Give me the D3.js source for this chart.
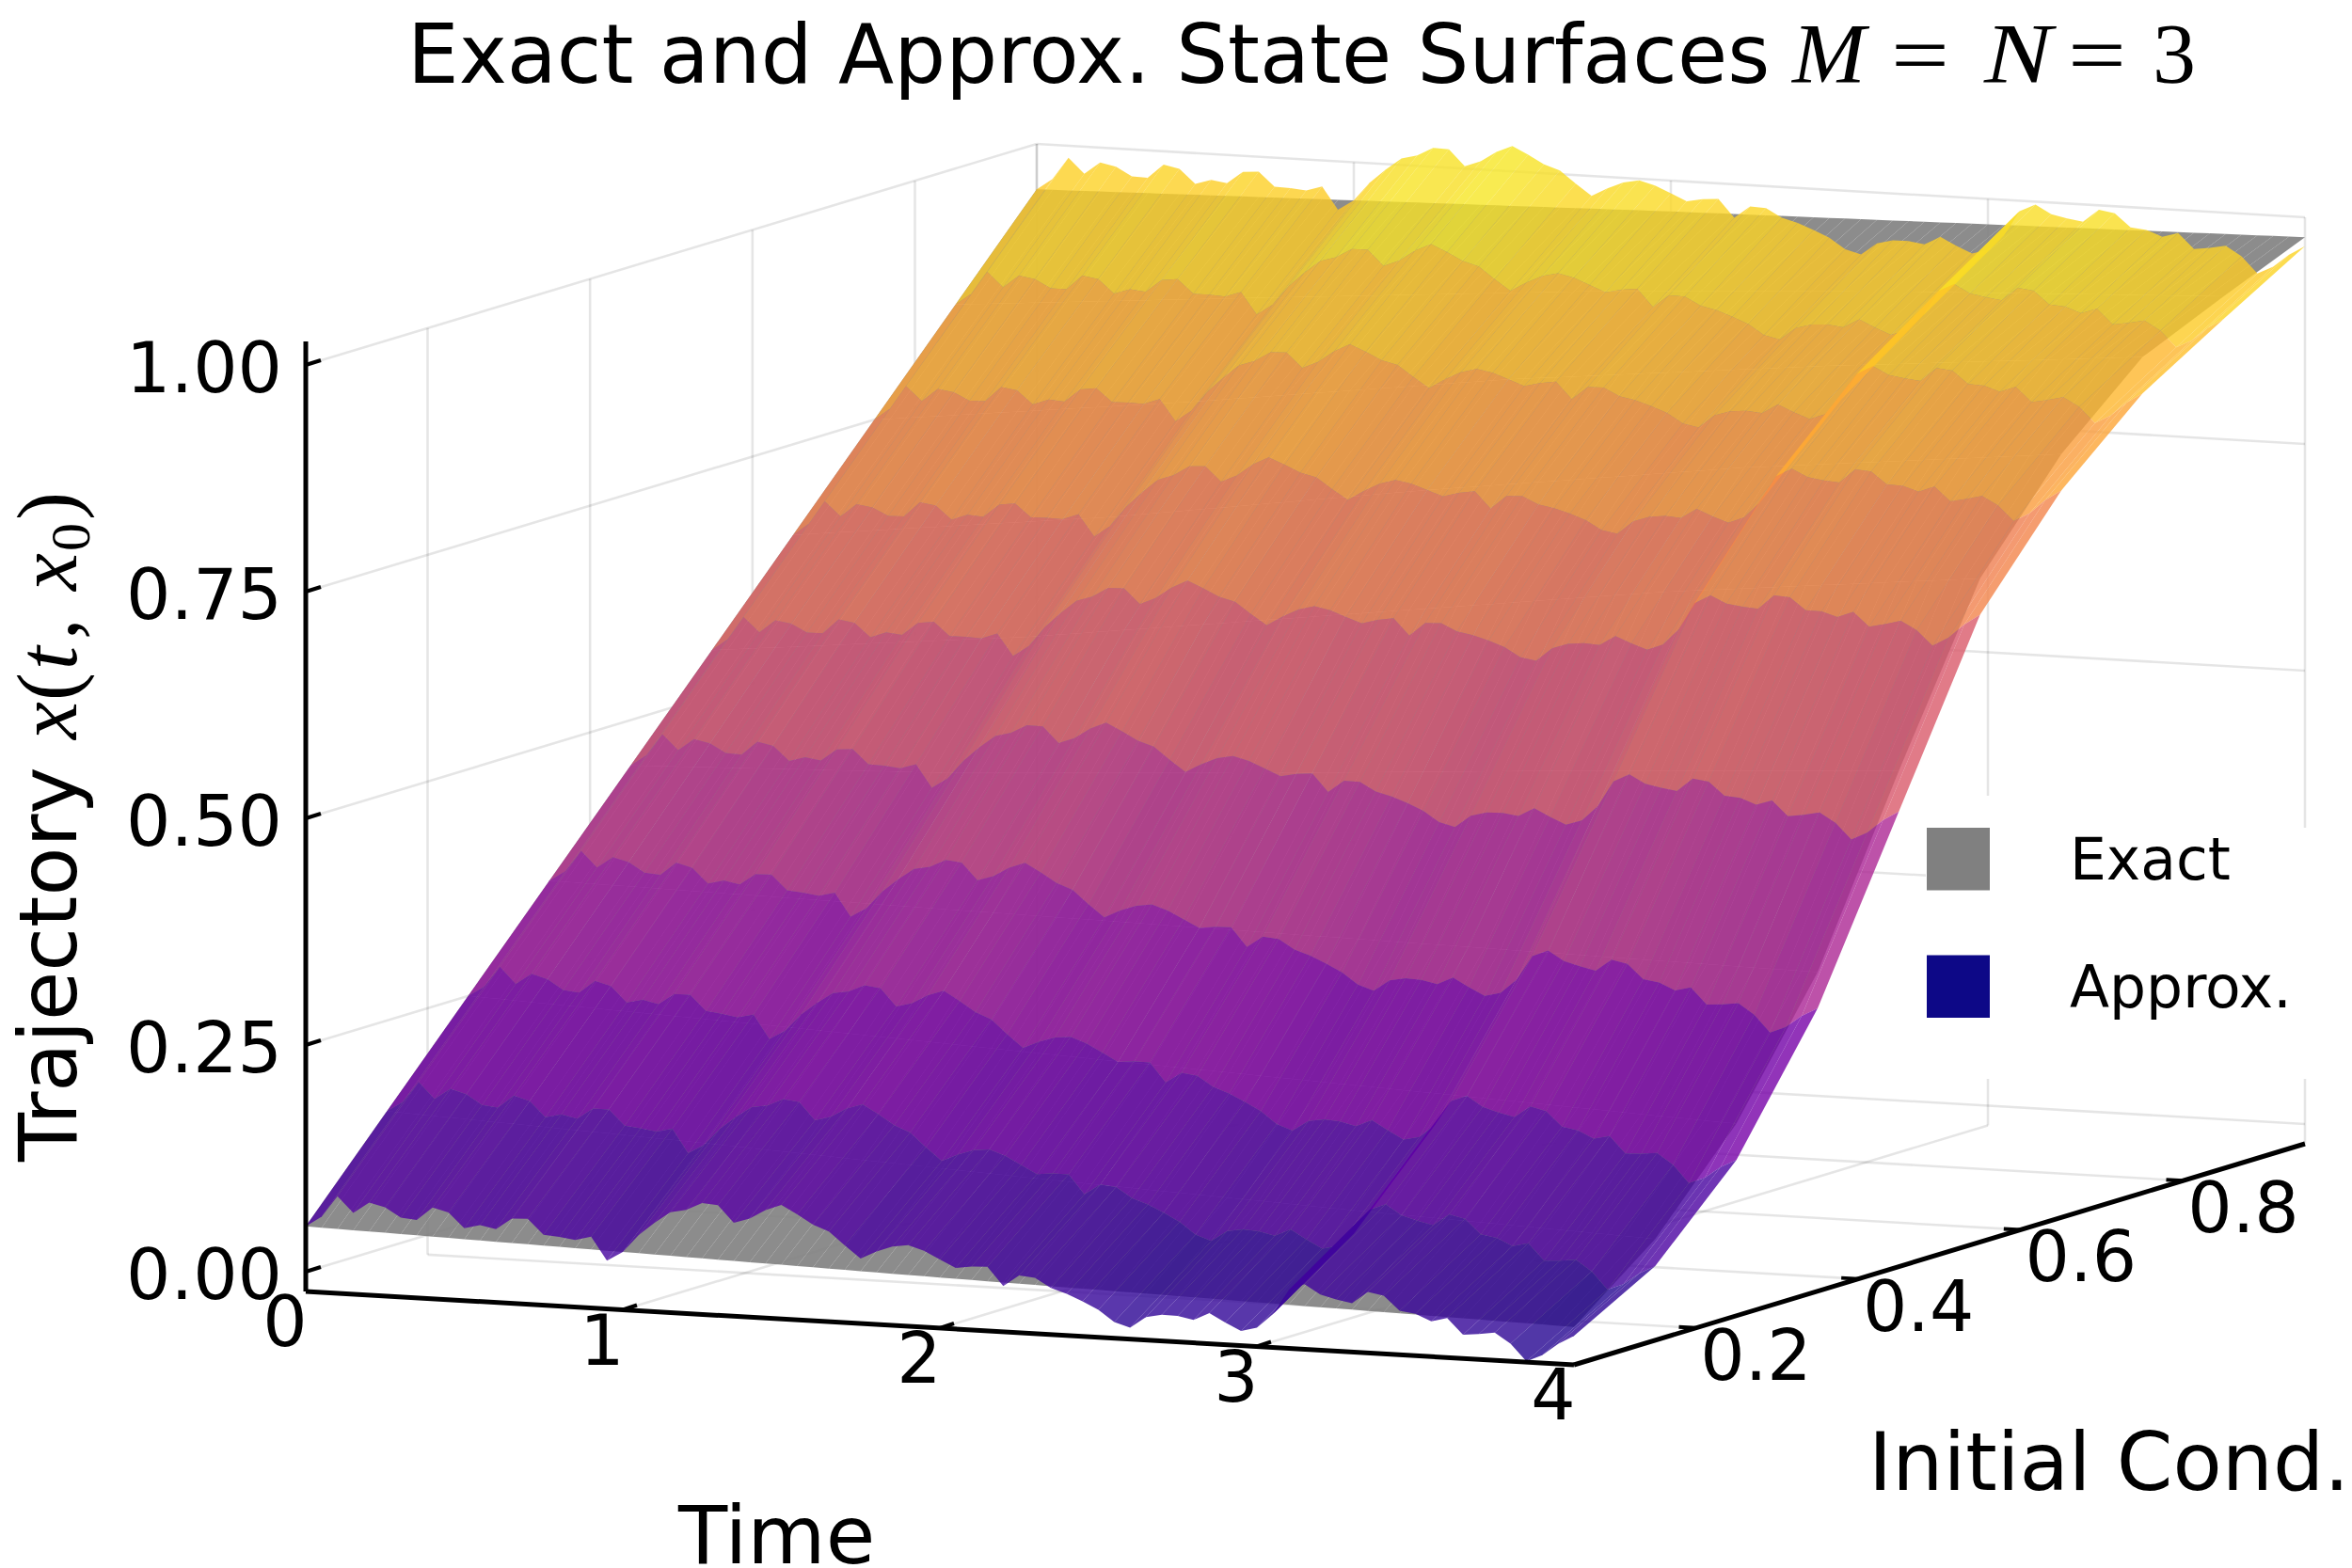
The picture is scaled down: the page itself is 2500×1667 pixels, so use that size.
<!DOCTYPE html>
<html><head><meta charset="utf-8">
<style>html,body{margin:0;padding:0;background:#fff}svg{display:block}text{font-family:"DejaVu Sans";fill:#000}.m{font-family:"Liberation Serif"}</style>
<script src="https://cdn.jsdelivr.net/npm/d3@7"></script></head><body><svg id="c" width="2500" height="1667"></svg>
<script>
// ---- data ----
const initialConds=[0.05,0.15,0.25,0.35,0.45,0.55,0.65,0.75,0.85,0.95];
const timeKnots=[0,1,2,3,4];
const exactRows=[
 [0.05,0.042,0.034,0.027,0.020],
 [0.15,0.135,0.118,0.103,0.090],
 [0.25,0.236,0.220,0.205,0.190],
 [0.35,0.345,0.340,0.335,0.330],
 [0.45,0.462,0.482,0.505,0.525],
 [0.55,0.585,0.630,0.675,0.710],
 [0.65,0.690,0.740,0.785,0.820],
 [0.75,0.790,0.835,0.870,0.900],
 [0.85,0.878,0.905,0.925,0.940],
 [0.95,0.958,0.966,0.972,0.978]];
const approxMeanRows=[
 [0.05,0.042,0.034,0.027,0.020],
 [0.15,0.133,0.111,0.090,0.070],
 [0.25,0.232,0.208,0.183,0.160],
 [0.35,0.340,0.328,0.315,0.300],
 [0.45,0.456,0.467,0.478,0.490],
 [0.55,0.575,0.607,0.645,0.680],
 [0.65,0.680,0.720,0.758,0.790],
 [0.75,0.780,0.815,0.845,0.870],
 [0.85,0.870,0.892,0.910,0.925],
 [0.95,0.958,0.966,0.972,0.978]];
const times=[0,.05,.1,.15,.2,.25,.3,.35,.4,.45,.5,.55,.6,.65,.7,.75,.8,.85,.9,.95,1,1.05,1.1,1.15,1.2,1.25,1.3,1.35,1.4,1.45,1.5,1.55,1.6,1.65,1.7,1.75,1.8,1.85,1.9,1.95,2,2.05,2.1,2.15,2.2,2.25,2.3,2.35,2.4,2.45,2.5,2.55,2.6,2.65,2.7,2.75,2.8,2.85,2.9,2.95,3,3.05,3.1,3.15,3.2,3.25,3.3,3.35,3.4,3.45,3.5,3.55,3.6,3.65,3.7,3.75,3.8,3.85,3.9,3.95,4];
const approxError=[0,.012,.036,.019,.032,.028,.018,.017,.032,.028,.012,.017,.014,.027,.028,.012,.011,.009,.014,-.011,0,.02,.035,.048,.052,.061,.06,.042,.048,.059,.066,.057,.047,.041,.027,.014,.023,.03,.033,.028,.02,.012,.015,.016,-.004,.009,.008,-.002,-.007,-.014,-.022,-.034,-.039,-.026,-.022,-.022,-.025,-.016,-.025,-.033,-.028,-.012,.016,.024,.014,.01,.007,.021,.018,.003,.001,-.006,-.001,-.018,-.016,-.013,-.024,-.042,-.034,-.02,-.01];
const zTicks=[0,.25,.5,.75,1], zLabels=["0.00","0.25","0.50","0.75","1.00"];
const tTicks=[0,1,2,3,4];
const x0Ticks=[.2,.4,.6,.8], x0Labels=["0.2","0.4","0.6","0.8"];
const legendNames=["Exact","Approx."], legendColors=["#808080","#0d0887"];

// ---- oblique projection built from scales ----
const ox=325, oy=1352, zFloor=-0.0218, zTop=1.0;
const tX=d3.scaleLinear([0,4],[0,1348]), tY=d3.scaleLinear([0,4],[0,78]);
const iX=d3.scaleLinear([.05,.95],[0,777]), iY=d3.scaleLinear([.05,.95],[0,-235]);
const zY=d3.scaleLinear([0,1],[0,-964]);
const P=(t,i,z)=>[ox+tX(t)+iX(i), oy+tY(t)+iY(i)+zY(z)];
const color=d3.scaleSequential(d3.interpolatePlasma).domain([-0.03,1.03]);
const svg=d3.select("#c");
const line=(g,a,b,w,c)=>g.append("line").attr("x1",a[0]).attr("y1",a[1]).attr("x2",b[0]).attr("y2",b[1]).attr("stroke",c).attr("stroke-width",w);

// ---- grid ----
const grid=svg.append("g"), gc="rgba(0,0,0,0.1)", gw=2.6;
zTicks.forEach(z=>{line(grid,P(0,.05,z),P(0,.95,z),gw,gc);line(grid,P(0,.95,z),P(4,.95,z),gw,gc);});
x0Ticks.forEach(i=>{line(grid,P(0,i,zFloor),P(0,i,zTop),gw,gc);line(grid,P(0,i,zFloor),P(4,i,zFloor),gw,gc);});
tTicks.forEach(t=>{line(grid,P(t,.95,zFloor),P(t,.95,zTop),gw,gc);if(t>0&&t<4)line(grid,P(t,.05,zFloor),P(t,.95,zFloor),gw,gc);});
line(grid,P(0,.95,zFloor),P(0,.95,zTop),gw,gc);
// legend background
svg.append("rect").attr("x",2047).attr("y",880).attr("width",453).attr("height",267).attr("fill","#fff");
svg.append("rect").attr("x",2047).attr("y",846).attr("width",390).attr("height",40).attr("fill","#fff");

// ---- surfaces ----
const exactScales=exactRows.map(r=>d3.scaleLinear(timeKnots,r));
const meanScales=approxMeanRows.map(r=>d3.scaleLinear(timeKnots,r));
const exact=(r,c)=>exactScales[r](times[c]);
const approx=(r,c)=>meanScales[r](times[c])+approxError[c];
const quad=(f,r,c)=>[[c,r],[c+1,r],[c+1,r+1],[c,r+1]].map(([cc,rr])=>P(times[cc],initialConds[rr],f(rr,cc)));
const pathOf=pts=>"M"+pts.map(p=>p[0].toFixed(2)+","+p[1].toFixed(2)).join("L")+"Z";
const gE=svg.append("g");
for(let r=0;r<initialConds.length-1;r++)for(let c=0;c<times.length-1;c++)
  gE.append("path").attr("d",pathOf(quad(exact,r,c))).attr("fill","#808080").attr("fill-opacity",.9);
const gA=svg.append("g");
for(let r=initialConds.length-2;r>=0;r--)for(let c=0;c<times.length-1;c++){
  const m=(approx(r,c)+approx(r+1,c)+approx(r,c+1)+approx(r+1,c+1))/4;
  gA.append("path").attr("d",pathOf(quad(approx,r,c))).attr("fill",color(m)).attr("fill-opacity",.8);
}

// ---- axes ----
const ax=svg.append("g"), k="#000";
line(ax,[ox,363],P(0,.05,zFloor),5,k);
line(ax,P(0,.05,zFloor),P(4,.05,zFloor),5,k);
line(ax,P(4,.05,zFloor),P(4,.95,zFloor),5,k);
zTicks.forEach(z=>{const a=P(0,.05,z);line(ax,a,[a[0]+16,a[1]-5],4,k);});
tTicks.slice(1,4).forEach(t=>{const a=P(t,.05,zFloor);line(ax,a,[a[0]+15,a[1]-5],4,k);});
x0Ticks.forEach(i=>{const a=P(4,i,zFloor);line(ax,a,[a[0]-18,a[1]-1],4,k);});
const T=(x,y,s,size,opt={})=>{const e=svg.append("text").attr("x",x).attr("y",y).attr("font-size",size).text(s);
  if(opt.anchor)e.attr("text-anchor",opt.anchor);if(opt.cls)e.attr("class",opt.cls);if(opt.italic)e.attr("font-style","italic");if(opt.rot)e.attr("transform",`rotate(-90 ${x} ${y})`);
  if(opt.len)e.attr("textLength",opt.len).attr("lengthAdjust","spacingAndGlyphs");return e;};
zTicks.forEach((z,i)=>T(300,P(0,.05,z)[1]+29,zLabels[i],74.5,{anchor:"end"}));
tTicks.forEach(t=>{const a=P(t,.05,zFloor);T(a[0]-22,a[1]+58,String(t),74.5,{anchor:"middle"});});
x0Ticks.forEach((i,n)=>{const a=P(4,i,zFloor);T(a[0]+64,a[1]+55,x0Labels[n],74.5,{anchor:"middle"});});

// ---- titles ----
T(433,88,"Exact and Approx. State Surfaces",86.5);
T(1905,88,"M",90,{cls:"m",italic:true,len:78});T(2010,88,"=",88,{cls:"m",len:62});T(2109,88,"N",90,{cls:"m",italic:true,len:72});T(2198,88,"=",88,{cls:"m",len:62});T(2288,88,"3",90,{cls:"m",len:46});
T(721,1662,"Time",85.5);
T(1986,1584,"Initial Cond.",85.5);
T(81,1235,"Trajectory",85,{rot:true});
T(81,786,"x",90,{cls:"m",italic:true,rot:true});T(81,745,"(",90,{cls:"m",rot:true});T(81,712,"t",90,{cls:"m",italic:true,rot:true});
T(81,680,",",90,{cls:"m",rot:true});T(81,628,"x",90,{cls:"m",italic:true,rot:true});T(95,586,"0",60,{cls:"m",rot:true});T(81,553,")",90,{cls:"m",rot:true});

// ---- legend ----
legendNames.forEach((n,i)=>{
  svg.append("rect").attr("x",2048).attr("y",880+135.5*i).attr("width",67).attr("height",66.5).attr("fill",legendColors[i]);
  T(2200,935+136*i,n,61.5);
});
</script></body></html>
